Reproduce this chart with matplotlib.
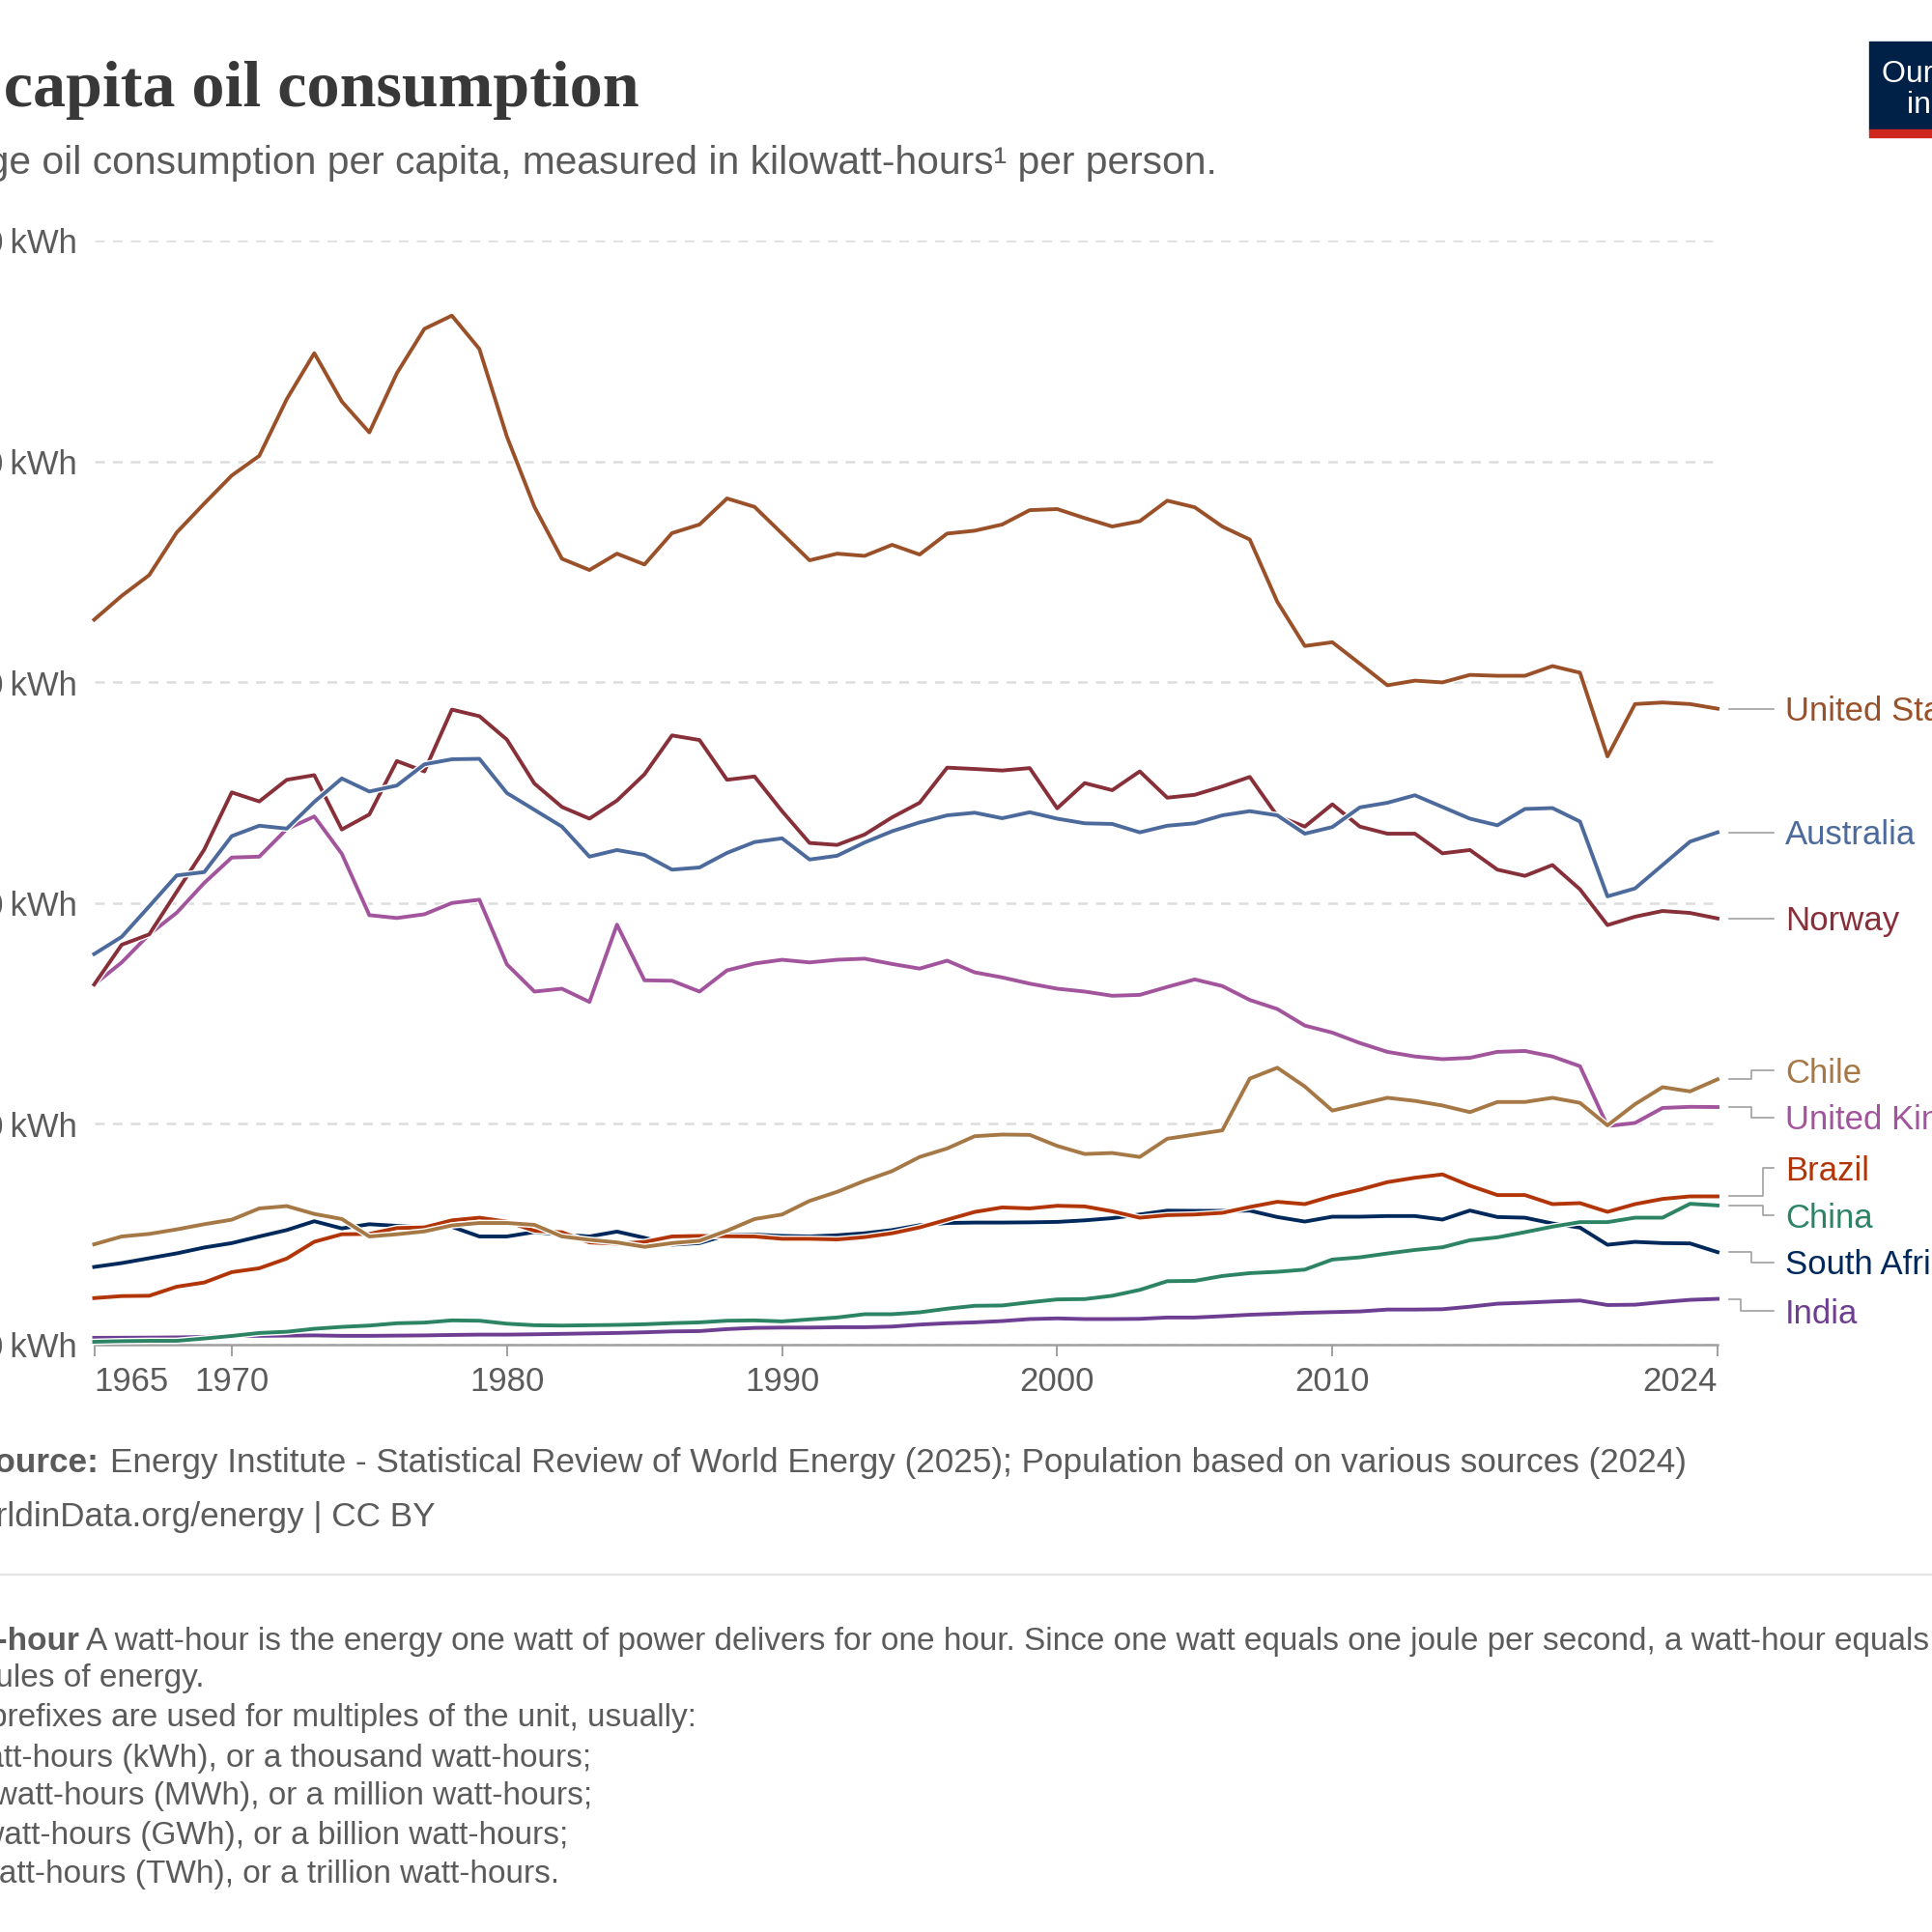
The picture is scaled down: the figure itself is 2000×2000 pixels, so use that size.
import matplotlib
matplotlib.use("Agg")
import matplotlib.pyplot as plt
import matplotlib.patheffects as pe
import matplotlib.transforms as mtrans
from matplotlib.patches import Rectangle
from matplotlib.lines import Line2D

plt.rcParams['font.family'] = ['Liberation Sans', 'DejaVu Sans']

# kWh per person, 1965-2024
years = list(range(1965, 2025))

united_states = [32830, 33910, 34850, 36780, 38090, 39360, 40250, 42820, 44900, 42710,
                 41310, 43990, 46000, 46600, 45090, 41120, 37940, 35590, 35080, 35820,
                 35330, 36750, 37140, 38320, 37940, 36730, 35520, 35820, 35720, 36220,
                 35780, 36730, 36860, 37140, 37790, 37840, 37430, 37050, 37290, 38220,
                 37920, 37050, 36460, 33640, 31640, 31810, 30840, 29860, 30070, 29990,
                 30330, 30290, 30290, 30730, 30430, 26640, 29010, 29080, 29010, 28800]
australia = [17690, 18470, 19850, 21250, 21400, 23030, 23500, 23370, 24580, 25640,
             25050, 25320, 26280, 26510, 26530, 24980, 24220, 23460, 22100, 22400,
             22180, 21510, 21610, 22270, 22760, 22930, 21970, 22140, 22740, 23250,
             23650, 23970, 24090, 23840, 24110, 23820, 23610, 23580, 23200, 23500,
             23610, 23970, 24160, 23970, 23140, 23440, 24330, 24540, 24880, 24350,
             23820, 23520, 24260, 24300, 23690, 20300, 20660, 21720, 22780, 23200]
norway = [16310, 18110, 18580, 20510, 22420, 25010, 24600, 25580, 25790, 23330,
          24010, 26430, 25960, 28760, 28460, 27400, 25410, 24350, 23820, 24640,
          25830, 27590, 27380, 25580, 25730, 24160, 22720, 22630, 23100, 23880,
          24540, 26130, 26070, 26000, 26110, 24290, 25430, 25110, 25960, 24770,
          24900, 25280, 25710, 23940, 23460, 24470, 23460, 23140, 23140, 22250,
          22400, 21510, 21230, 21720, 20620, 19000, 19380, 19640, 19550, 19300]
chile = [4545, 4900, 5015, 5220, 5455, 5660, 6170, 6275, 5920, 5690,
         4900, 5000, 5130, 5400, 5510, 5510, 5425, 4900, 4750, 4630,
         4430, 4600, 4705, 5160, 5690, 5895, 6510, 6920, 7420, 7860,
         8500, 8885, 9440, 9515, 9500, 9000, 8635, 8680, 8500, 9325,
         9515, 9705, 12050, 12540, 11690, 10600, 10890, 11180, 11040, 10830,
         10530, 10990, 10990, 11180, 10950, 9930, 10890, 11660, 11470, 12015]
united_kingdom = [16310, 17310, 18580, 19560, 20910, 22060, 22100, 23350, 23920, 22230,
                  19450, 19320, 19490, 20000, 20150, 17220, 15990, 16120, 15520, 19020,
                  16500, 16480, 15990, 16950, 17260, 17430, 17310, 17430, 17480, 17240,
                  17030, 17390, 16860, 16630, 16350, 16120, 15990, 15800, 15840, 16200,
                  16540, 16240, 15610, 15200, 14450, 14130, 13660, 13260, 13050, 12930,
                  12990, 13260, 13300, 13050, 12610, 9900, 10040, 10720, 10770, 10760]
brazil = [2110, 2200, 2215, 2625, 2815, 3285, 3460, 3900, 4660, 5000,
          5015, 5280, 5310, 5630, 5750, 5570, 5160, 5090, 4630, 4575,
          4650, 4900, 4925, 4910, 4900, 4795, 4795, 4765, 4870, 5045,
          5310, 5660, 6010, 6215, 6170, 6290, 6260, 6040, 5750, 5865,
          5895, 5970, 6235, 6470, 6365, 6730, 7020, 7360, 7560, 7710,
          7200, 6775, 6775, 6365, 6410, 6015, 6365, 6600, 6715, 6715]
china = [130, 160, 175, 175, 280, 395, 530, 585, 720, 805,
         865, 970, 1000, 1100, 1085, 950, 880, 865, 880, 895,
         925, 975, 1010, 1085, 1100, 1055, 1145, 1230, 1380, 1380,
         1465, 1630, 1760, 1775, 1920, 2050, 2065, 2215, 2480, 2875,
         2890, 3110, 3240, 3300, 3400, 3855, 3955, 4130, 4290, 4410,
         4730, 4860, 5095, 5345, 5550, 5550, 5750, 5750, 6380, 6305]
south_africa = [3520, 3695, 3915, 4135, 4400, 4600, 4900, 5190, 5590, 5265,
                5455, 5380, 5310, 5340, 4900, 4900, 5100, 4985, 4900, 5120,
                4840, 4530, 4600, 4970, 4985, 4925, 4900, 4955, 5045, 5190,
                5410, 5510, 5530, 5530, 5540, 5560, 5630, 5730, 5895, 6070,
                6060, 6060, 6070, 5780, 5575, 5795, 5795, 5825, 5825, 5665,
                6075, 5780, 5750, 5490, 5300, 4525, 4655, 4600, 4585, 4190]
india = [310, 315, 320, 330, 350, 395, 400, 410, 420, 400,
         400, 410, 420, 440, 455, 455, 470, 490, 510, 530,
         560, 600, 615, 705, 760, 775, 775, 790, 790, 820,
         910, 970, 1010, 1070, 1160, 1190, 1160, 1160, 1170, 1230,
         1230, 1290, 1355, 1400, 1445, 1475, 1505, 1590, 1590, 1605,
         1720, 1855, 1900, 1955, 2000, 1795, 1810, 1930, 2030, 2075]

names = ["United States", "Australia", "Norway", "Chile", "United Kingdom",
         "Brazil", "China", "South Africa", "India"]
series = [united_states, australia, norway, chile, united_kingdom,
          brazil, china, south_africa, india]
colors = ["#9a5129", "#4c6a9c", "#883039", "#a57846", "#a2559c",
          "#b13507", "#2c8465", "#00295b", "#6d3e91"]
# where the end labels sit (data units, None = at the line end) and where each connector bends (px)
label_y = [None, None, None, 12420, 10280, 8005, 5860, 3720, 1530]
elbow_px = [1813, 1813, 1813, 1813, 1813, 1825, 1825, 1813, 1802]

yticks = [0, 10000, 20000, 30000, 40000, 50000]
xticks = [1965, 1970, 1980, 1990, 2000, 2010, 2024]

TEXT = "#5b5b5b"
W = H = 2000.0
X0, X1, Y0, Y1 = 97.5, 1778.0, 249.0, 1392.0


def fx(px):
    return px / W


def fy(py):
    return 1 - py / H


def axfrac(px):
    return (px - X0) / (X1 - X0)


fig = plt.figure(figsize=(20, 20), dpi=100)
ax = fig.add_axes([fx(X0), fy(Y1), (X1 - X0) / W, (Y1 - Y0) / H])

halo = [pe.Stroke(linewidth=4.8, foreground="white"), pe.Normal()]
for vals, col in reversed(list(zip(series, colors))):
    ax.plot(years, vals, color=col, lw=2.8, solid_joinstyle="round",
            clip_on=False, path_effects=halo, zorder=3)

ax.set_xlim(1965, 2024)
ax.set_ylim(0, 50000)

ax.set_yticks(yticks)
ax.set_yticklabels([f"{v:,}\u2009kWh" for v in yticks])
ax.tick_params(axis="y", length=0, pad=12.6, labelsize=25, labelcolor=TEXT)
ax.grid(axis="y", color="#dddddd", linewidth=1.8, linestyle=(0, (4, 3.4)))
ax.set_axisbelow(True)

for s in ["left", "right", "top"]:
    ax.spines[s].set_visible(False)
ax.spines["bottom"].set_color("#a0a0a0")
ax.spines["bottom"].set_linewidth(1.8)

ax.set_xticks(xticks)
ax.set_xticklabels([str(x) for x in xticks])
ax.tick_params(axis="x", length=8.5, width=1.4, color="#a0a0a0", pad=7,
               labelsize=25, labelcolor=TEXT)
xl = ax.get_xticklabels()
xl[0].set_ha("left")
xl[-1].set_ha("right")

# end labels with connectors
trans = mtrans.blended_transform_factory(ax.transAxes, ax.transData)
for name, vals, col, ly, ex in zip(names, series, colors, label_y, elbow_px):
    if ly is None:
        ly = vals[-1]
    ax.plot([axfrac(1790), axfrac(ex), axfrac(ex), axfrac(1836)],
            [vals[-1], vals[-1], ly, ly], transform=trans, color="#a0a0a0",
            lw=1.2, clip_on=False)
    ax.annotate(name, xy=(axfrac(1848), ly), xycoords=trans,
                xytext=(0, -9), textcoords="offset points",
                va="baseline", ha="left", fontsize=25, color=col,
                annotation_clip=False)

# header
fig.text(fx(662), fy(110), "Per capita oil consumption", ha="right", va="baseline",
         fontsize=49, family="Liberation Serif", weight="bold", color="#383838")
fig.text(fx(1260), fy(180),
         "Average oil consumption per capita, measured in kilowatt-hours\u00b9 per person.",
         ha="right", va="baseline", fontsize=29.3, color=TEXT)

# logo
fig.add_artist(Rectangle((fx(1935), fy(134)), 140 / W, (134 - 43) / H,
                         transform=fig.transFigure, color="#002147"))
fig.add_artist(Rectangle((fx(1935), fy(142)), 140 / W, 8 / H,
                         transform=fig.transFigure, color="#ce261e"))
fig.text(fx(1948), fy(85), "Our World", color="white", fontsize=23, va="baseline")
fig.text(fx(1974), fy(117), "in Data", color="white", fontsize=23, va="baseline")

# footer
fig.text(fx(102), fy(1524), "Source:", ha="right", va="baseline", fontsize=25.3,
         weight="bold", color=TEXT)
fig.text(fx(113.5), fy(1524),
         "Energy Institute - Statistical Review of World Energy (2025); "
         "Population based on various sources (2024)",
         ha="left", va="baseline", fontsize=25.3, color=TEXT)
fig.text(fx(451), fy(1580), "OurWorldinData.org/energy | CC BY", ha="right",
         va="baseline", fontsize=25.3, color=TEXT)
fig.add_artist(Line2D([0, 1], [fy(1630), fy(1630)], transform=fig.transFigure,
                      color="#e3e3e3", lw=1.6))

NOTE = 24
fig.text(fx(82), fy(1708), "\u00b9 Watt-hour", ha="right", va="baseline",
         fontsize=NOTE, weight="bold", color=TEXT)
fig.text(fx(89), fy(1708),
         "A watt-hour is the energy one watt of power delivers for one hour. "
         "Since one watt equals one joule per second, a watt-hour equals",
         ha="left", va="baseline", fontsize=NOTE, color=TEXT)
notes = [
    ("3600 joules of energy.", 212, 1746),
    ("Metric prefixes are used for multiples of the unit, usually:", 721, 1787),
    ("- kilowatt-hours (kWh), or a thousand watt-hours;", 612, 1829),
    ("- megawatt-hours (MWh), or a million watt-hours;", 613, 1868),
    ("- gigawatt-hours (GWh), or a billion watt-hours;", 588, 1909),
    ("- terawatt-hours (TWh), or a trillion watt-hours.", 579, 1949),
]
for txt, xr, yb in notes:
    fig.text(fx(xr), fy(yb), txt, ha="right", va="baseline", fontsize=NOTE,
             color=TEXT)

fig.savefig("out.png", dpi=100, facecolor="white")
